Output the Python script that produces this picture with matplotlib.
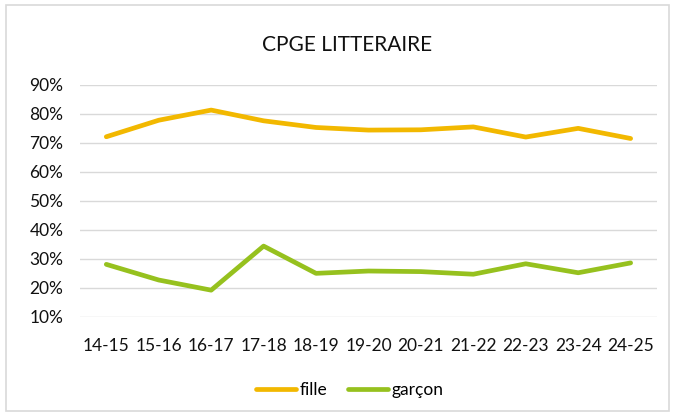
import matplotlib.pyplot as plt
import matplotlib.ticker as tkr
from matplotlib.patches import Rectangle

# ---- data ----
years = ["14-15", "15-16", "16-17", "17-18", "18-19", "19-20",
         "20-21", "21-22", "22-23", "23-24", "24-25"]
fille = [72.1, 77.8, 81.3, 77.6, 75.3, 74.4, 74.5, 75.5, 72.0, 75.0, 71.5]
garcon = [28.1, 22.7, 19.2, 34.4, 25.0, 25.8, 25.6, 24.7, 28.3, 25.2, 28.6]
y_ticks = [10, 20, 30, 40, 50, 60, 70, 80, 90]

plt.rcParams['font.family'] = ['Lato', 'DejaVu Sans']

fig = plt.figure(figsize=(6.73, 4.18), dpi=100)
ax = fig.add_axes([0.119, 0.242, 0.857, 0.555])

# outer chart frame
fig.patches.append(Rectangle((0.009, 0.017), 0.985, 0.972, transform=fig.transFigure,
                             fill=False, edgecolor="#d9d9d9", linewidth=1.2))

x = range(len(years))
ax.plot(x, fille, color="#F2B800", linewidth=3.4, label="fille", solid_capstyle="round")
ax.plot(x, garcon, color="#96C11E", linewidth=3.4, label="garçon", solid_capstyle="round")

ax.set_xlim(-0.5, len(years) - 0.5)
ax.set_ylim(10, 90)
ax.set_yticks(y_ticks)
ax.yaxis.set_major_formatter(tkr.FuncFormatter(lambda v, p: f"{v:.0f}%"))
ax.set_xticks(list(x))
ax.set_xticklabels(years)
ax.grid(axis="y", color="#d9d9d9", linewidth=1)
ax.set_axisbelow(True)
for s in ax.spines.values():
    s.set_visible(False)
ax.tick_params(axis="both", length=0, labelsize=12.5, colors="#111111")
ax.tick_params(axis="y", pad=12)
ax.tick_params(axis="x", pad=15)

fig.text(0.515, 0.892, "CPGE LITTERAIRE", ha="center", va="center", fontsize=15, color="#111111")

fig.legend(loc="center", bbox_to_anchor=(0.52, 0.066), ncol=2, frameon=False,
           fontsize=12.5, handlelength=2.3, handletextpad=0.2, columnspacing=1.2)

plt.savefig("out.png", dpi=100)
